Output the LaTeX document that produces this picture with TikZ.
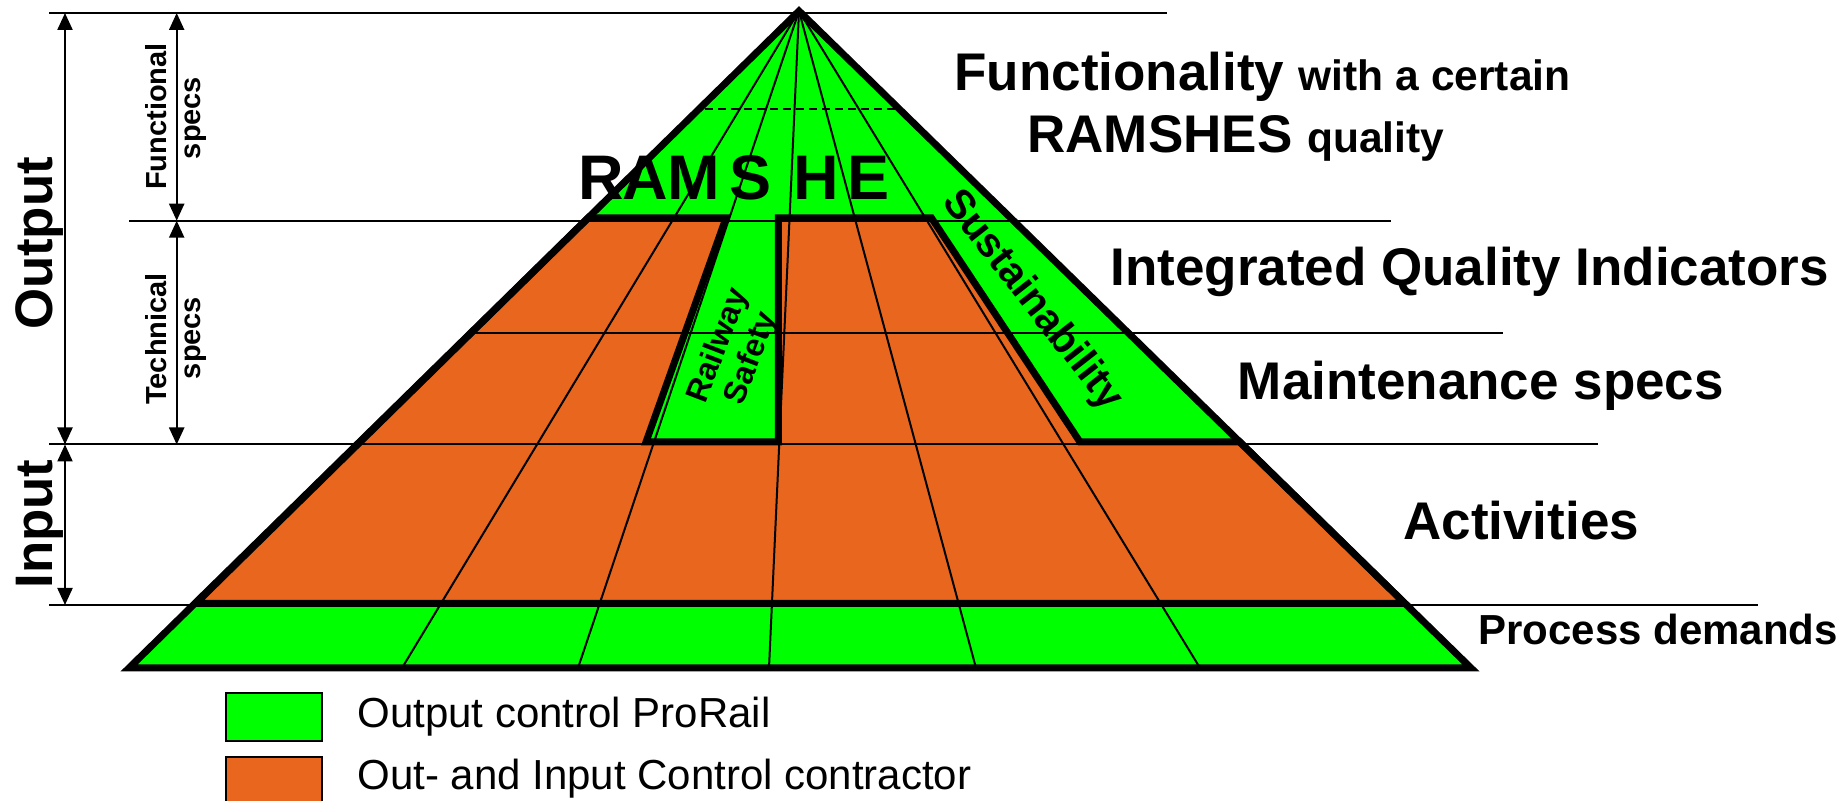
\documentclass[tikz,border=0pt]{standalone}
\usepackage{fontspec}
\setmainfont{Liberation Sans}
\usetikzlibrary{arrows.meta}
\definecolor{pgreen}{RGB}{0,255,0}
\definecolor{porange}{RGB}{233,102,31}
\begin{document}
\begin{tikzpicture}[x=0.5pt,y=-0.5pt,
  thinline/.style={line width=1pt},
  thickline/.style={line width=3.5pt, line join=miter},
  lbl/.style={inner sep=0pt, font=\bfseries},
  dimarrow/.style={line width=1.1pt, {Triangle[length=8.5pt,width=7.5pt]}-{Triangle[length=8.5pt,width=7.5pt]}},
  legendbox/.style={draw=black, line width=0.9pt, inner sep=0pt, minimum width=48pt, anchor=north west},
  bigtxt/.style={lbl, anchor=base west, font=\bfseries\fontsize{26.5}{30}\selectfont},
]
\useasboundingbox (0,0) rectangle (1848,801);
\fill[white] (0,0) rectangle (1848,801);
\clip (0,0) rectangle (1848,801);

% pyramid geometry
\coordinate (A) at (799,11);
\coordinate (BL) at (129,668);
\coordinate (BR) at (1471,668);

% fills
\fill[pgreen] (A) -- (BL) -- (BR) -- cycle;
\fill[porange] (588.2,218) -- (726,218) -- (646,442) -- (778.3,442) -- (778.3,218)
  -- (931.5,218) -- (1080,442) -- (1239.8,442) -- (1405,603.5) -- (195.7,603.5) -- cycle;

% thin horizontal lines
\draw[thinline] (49,13) -- (1167,13);
\draw[thinline] (129,220.7) -- (1391,220.7);
\draw[thinline] (471,333) -- (1503,333);
\draw[thinline] (49,444.5) -- (1598,444.5);
\draw[thinline] (49,605) -- (1758,605);
\draw[line width=0.8pt, dash pattern=on 4pt off 2.5pt] (705,109) -- (899,109);

% fan lines
\foreach \bx in {402,578,769,976,1200} {
  \draw[thinline] (A) -- (\bx,668);
}

% thick outlines
\draw[thickline] (588.2,218) -- (726,218) -- (646,442) -- (778.3,442) -- (778.3,218)
  -- (931.5,218) -- (1080,442) -- (1239.8,442) -- (1405,603.5) -- (195.7,603.5) -- cycle;
\draw[thickline] (A) -- (BL) -- (BR) -- cycle;

% dimension arrows
\coordinate (o1) at (65,13);
\coordinate (o2) at (65,444.5);
\coordinate (i2) at (65,605);
\coordinate (f1) at (176.7,13);
\coordinate (f2) at (176.7,220.7);
\coordinate (t2) at (176.7,444.5);
\draw[dimarrow] (o1) -- (o2);
\draw[dimarrow] (o2) -- (i2);
\draw[dimarrow] (f1) -- (f2);
\draw[dimarrow] (f2) -- (t2);

% left labels
\node[lbl, rotate=90, anchor=base, font=\bfseries\fontsize{26.4}{30}\selectfont] (output) at (52,243.5) {Output};
\node[lbl, rotate=90, anchor=base, font=\bfseries\fontsize{26.4}{30}\selectfont] (input) at (52,524) {Input};
\node[lbl, rotate=90, anchor=base, font=\bfseries\fontsize{14.5}{17}\selectfont] (func1) at (166,116.5) {Functional};
\node[lbl, rotate=90, anchor=base, font=\bfseries\fontsize{14.5}{17}\selectfont] (func2) at (200,118) {specs};
\node[lbl, rotate=90, anchor=base, font=\bfseries\fontsize{14.5}{17}\selectfont] (tech1) at (166,339) {Technical};
\node[lbl, rotate=90, anchor=base, font=\bfseries\fontsize{14.5}{17}\selectfont] (tech2) at (200,338) {specs};

% pyramid labels
\node[lbl, anchor=base west, font=\bfseries\fontsize{31.5}{36}\selectfont] (ramshe) at (578.4,200)
  {R\kern-1pt A\kern0pt M\kern4.8pt S\kern11pt H\kern4.2pt E};
\node[lbl, rotate=69, align=center, font=\bfseries\fontsize{16}{17.5}\selectfont] (rail) at (735.5,352) {Railway\\Safety};
\node[lbl, rotate=-52, font=\bfseries\fontsize{20.5}{24}\selectfont] (sust) at (1032,301) {Sustainability};

% right labels
\node[bigtxt] (functxt) at (954,90.5) {Functionality \fontsize{21.25}{25}\selectfont with a certain};
\node[bigtxt] (ramshes) at (1027,152.5) {RAMSHES \fontsize{21.25}{25}\selectfont quality};
\node[bigtxt] (iqi) at (1110,286) {Integrated Quality Indicators};
\node[bigtxt] (maint) at (1237.5,400) {Maintenance specs};
\node[bigtxt] (act) at (1403,539.3) {Activities};
\node[lbl, anchor=base west, font=\bfseries\fontsize{21}{25}\selectfont] (proc) at (1478,645) {Process demands};

% legend
\node[legendbox, fill=pgreen, minimum height=24pt] (lg1) at (225,692) {};
\node[legendbox, fill=porange, minimum height=26pt] (lg2) at (225,756) {};
\node[inner sep=0pt, anchor=base west, font=\fontsize{21}{25}\selectfont] (lt1) at (357,727) {Output control ProRail};
\node[inner sep=0pt, anchor=base west, font=\fontsize{21}{25}\selectfont] (lt2) at (357,790) {Out- and Input Control contractor};
\end{tikzpicture}
\end{document}
